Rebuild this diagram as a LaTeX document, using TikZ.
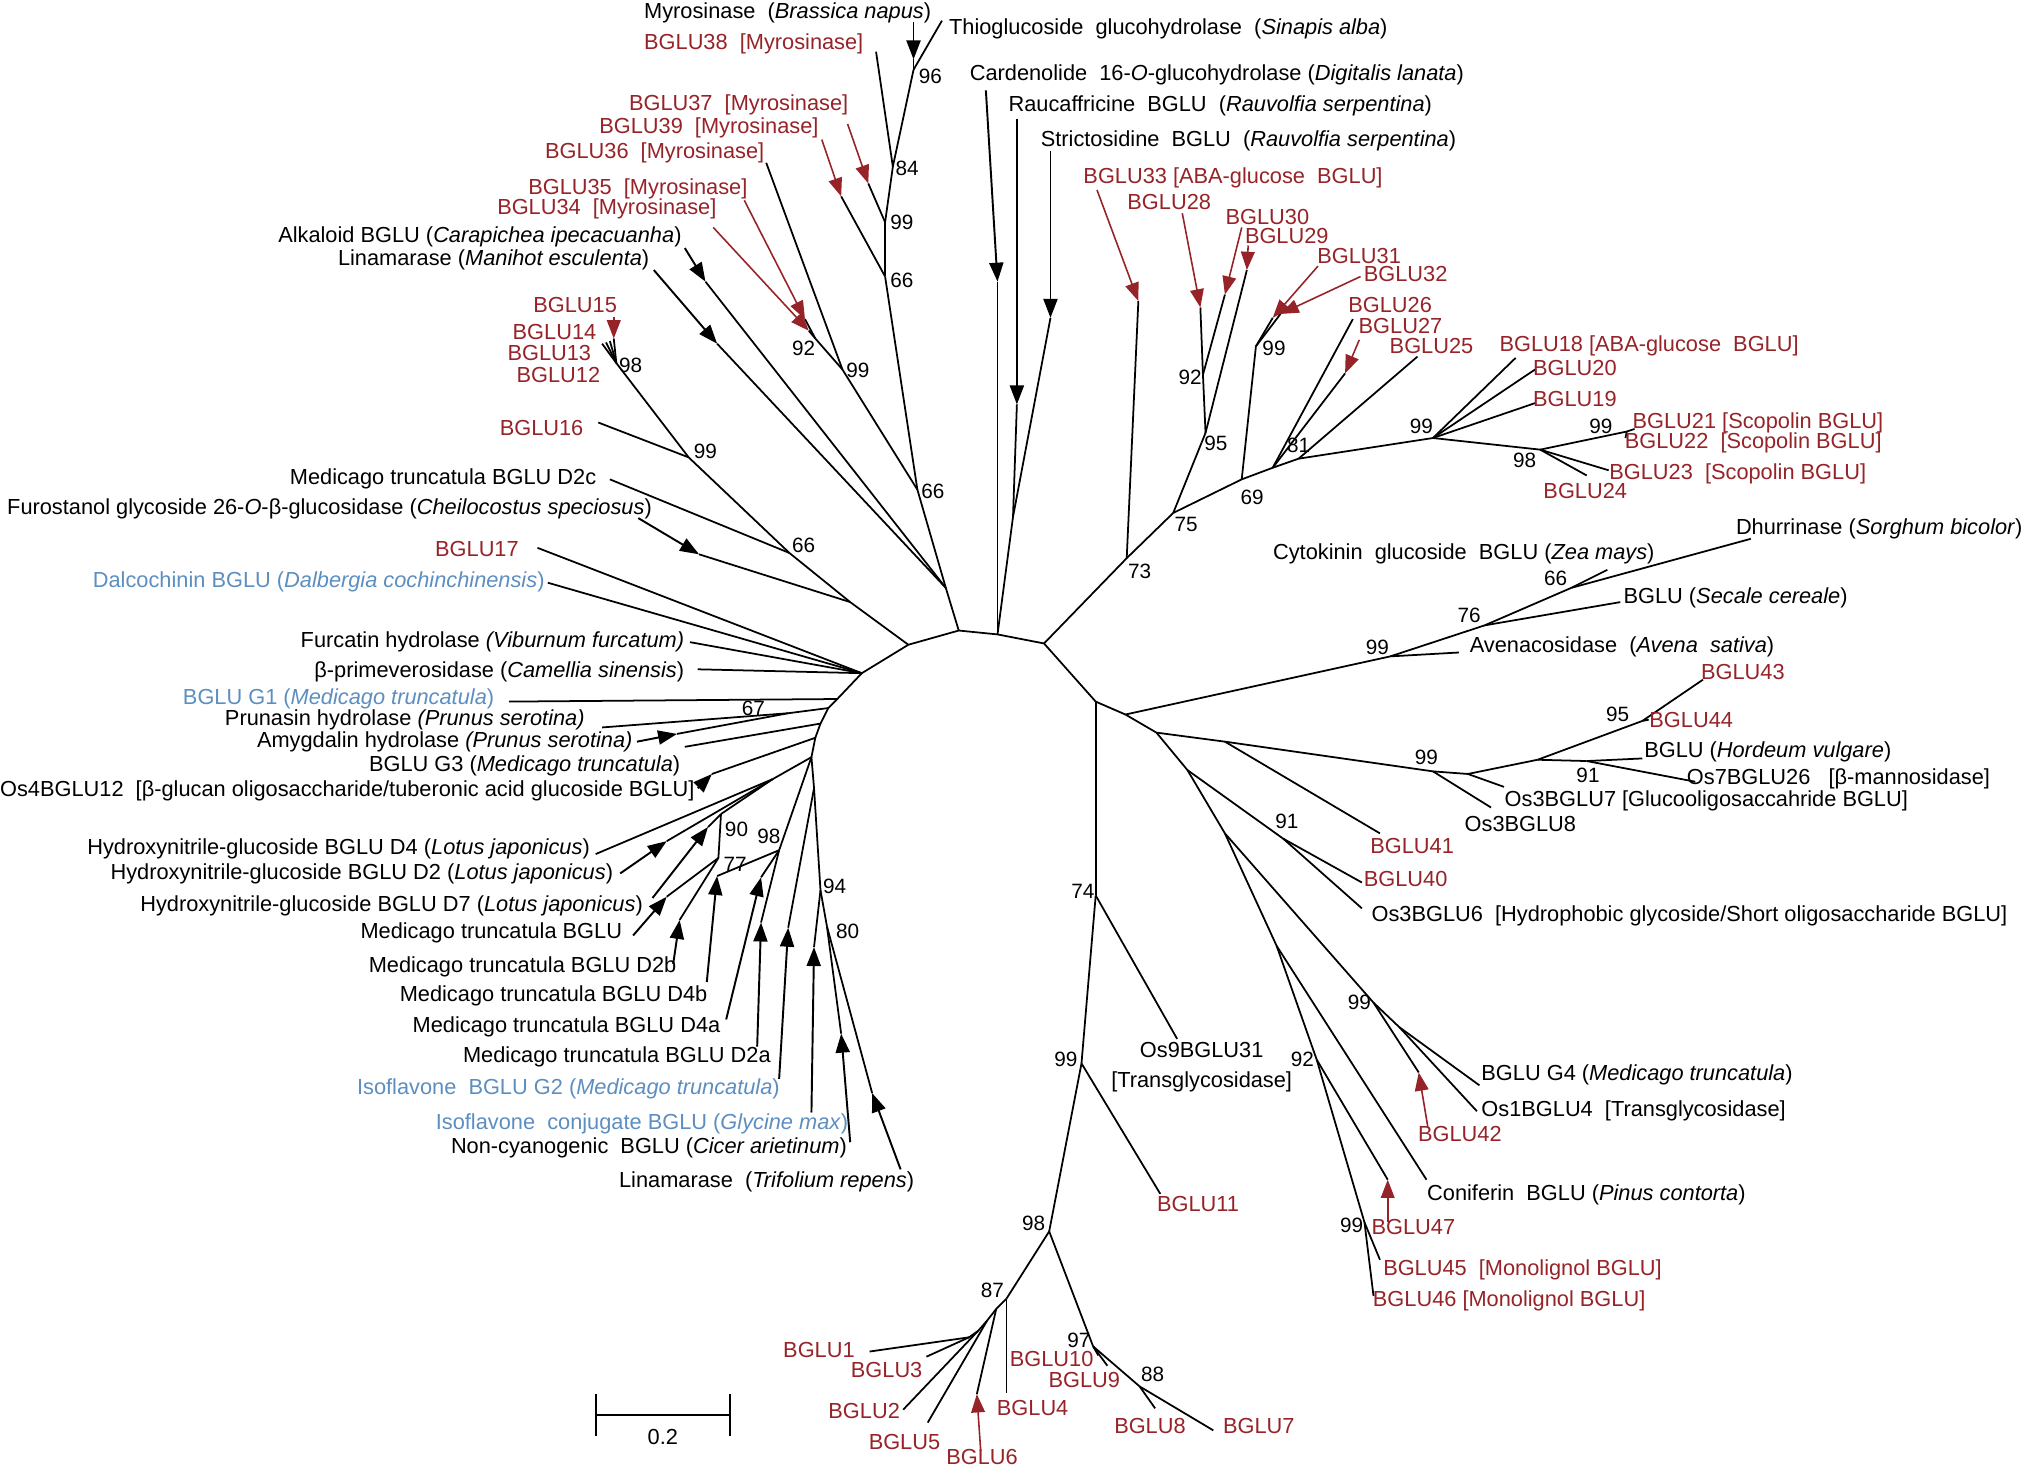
\documentclass[tikz,border=0pt]{standalone}
\usepackage{fontspec}
\setmainfont{Liberation Sans}
\usetikzlibrary{arrows.meta}

\definecolor{glured}{RGB}{150,35,40}
\definecolor{glublue}{RGB}{92,142,192}

\tikzset{
  br/.style={line width=0.5pt, line join=round},
  lab/.style={inner sep=0pt, font=\fontsize{6.2}{8.4}\selectfont},
  rlab/.style={lab, text=glured},
  blab/.style={lab, text=glublue},
  boot/.style={inner sep=0pt, font=\fontsize{5.9}{6.5}\selectfont},
  pnt/.style={line width=0.55pt, -{Triangle[length=5.4pt,width=4pt]}},
  rpnt/.style={glured, line width=0.45pt, -{Triangle[length=5.2pt,width=3.9pt]}},
}

\begin{document}
\begin{tikzpicture}[x=0.01292cm, y=-0.01292cm]
\useasboundingbox (0,0) rectangle (1568,1138);

% inner nodes
\foreach \n/\x/\y in {R1/848/543, R2/808/498, R3/772/491, R4/742/488, R5/703/499, R6/667/521,
  R7/648/541, R8/641/548, R9/635/560, R10/631/571, R11/628/586,
  nF/658/466, n66a/611/428, n99a/533/354, n98a/477/281,
  nA4/732/455, n66b/710/379, n99b/652/286, n92/631/262, n66c/685/214, n99c/685/172, n84/691/129, n96/707/54,
  nRS/784/400, n73/872/432, n75/908/397, n95/933/335, n92r/931/290, n69/961/371, n99r3/972/268,
  n81/985/362, nS25/1005/355, n99r4/1109/339, n98r/1192/348, n99r5/1259/334,
  nDh/871/553, n99d/1076/508, n76/1149/484, n66d/1216/455,
  nC1/895/567, nB41/948/574, nOs99/1109/597, nOs7/1136/599, nHv/1190/588, n95b/1271/558, n91b/1228/589,
  nC2/919/596, n91a/993/649, nC3/948/645, n99G4/1063/776, nG4/1083/795, nC4/988/732, n92b/1019/820, n99e/1056/946,
  n74/848/693, n99f/837/823, n98b/812/953, n87/779/1005, n97/846/1042, n88/882/1073,
  nB1/771/1013, nB2/764/1022, nB3/757/1030, nB4/750/1035,
  n67/610/552, nLA/598/603, n90/558/630, n77/556/664, n98c/603/658, nY/630/610, n94/635/689, n80/640/717}
  \coordinate (\n) at (\x,\y);

% leaf tips
\foreach \n/\x/\y in {tD2c/472/371, tB16/463/327, tB12/466/266, tB13/469/265, tB14/472/264, tB15/475/262,
  tFur/541/429, tB17/416/424, tDal/424/451, tFurc/534/497, tPrim/540/518,
  tAlk/546/218, tLinM/555/266, tB36/593/126, tB35/623/247, tB34/626/256, tB39/651/152, tB37/672/142,
  tB38/678/40, tMyr/707/46, tThio/729/16,
  tCard/772/218, tRauc/787/313, tStri/813/246, tB33/881/233, tB29/965/209, tB28/929/238, tB30/948/228,
  tB31/985/246, tB32/991/243, tB26/1047/247, tB27/1041/289, tB25/1097/276, tB18/1173/277, tB20/1188/286,
  tB19/1188/312, tB21/1265/332, tB22/1258/339, tB23/1245/364, tB24/1228/368,
  tAve/1129/505, tSec/1254/466, tCyt/1244/441, tDhu/1355/417,
  tB41/1068/645, tOs8/1154/625, tOs7/1164/609, tB43/1318/526, tB44/1276/557, tHv/1271/587, tOs26/1312/605,
  tB40/1054/683, tOs6/1054/703, tB42/1098/830, tG4/1145/840, tOs1/1143/860, tCon/1104/913,
  tB47/1074/913, tB45/1068/975, tB46/1063/1003,
  tOs9/911/804, tB11/898/924, tB10/850/1049, tB9/857/1057, tB8/894/1090, tB7/939/1107, tB4/779/1078,
  tB6/756/1079, tB5/718/1101, tB2/699/1091, tB3/717/1050, tB1/673/1046,
  tG1/394/543, tPru/466/563, tAmy/524/568, tG3/530/578, tOs4/551/599,
  tD4/461/661, tD2/516/651, tD7/548/640, tMt/516/694, tD2b/526/712, tD4b/555/678, tD4a/589/679,
  tD2a/589/714, tG2/610/718, tGly/630/733, tCic/651/800, tTri/675/846}
  \coordinate (\n) at (\x,\y);

% arrow tails
\foreach \n/\x/\y in {aFur/494/401, aAlk/530/192, aLinM/506/209, aB15/475/245, aB34/552/176, aB35/576/155,
  aB37/656/96, aB39/636/108, aMyr/707/17, aCard/763/70, aRauc/787/92, aStri/813/117, aB33/849/147,
  aB28/915/165, aB30/961/176, aB29/966/190, aB31/1020/206, aB32/1053/214, aB27/1052/263,
  aB42/1105/872, aB47/1074/946, aB6/759/1123, aAmy/493/574, aOs4/540/610,
  aD2/480/676, aD7/505/695, aMt/490/724, aD2b/521/746, aD4b/547/760, aD4a/562/789, aD2a/586/810,
  aG2/603/835, aGly/628/861, aCic/658/884, aTri/697/905}
  \coordinate (\n) at (\x,\y);

\draw[br] (R11) -- (R10) -- (R9) -- (R8) -- (R7) -- (R6) -- (R5) -- (R4) -- (R3) -- (R2) -- (R1);

\foreach \p/\c in {R6/tB17, R6/tDal, R6/tFurc, R6/tPrim,
  R5/nF, nF/n66a, nF/tFur, n66a/tD2c, n66a/n99a, n99a/tB16, n99a/n98a,
  n98a/tB12, n98a/tB13, n98a/tB14, n98a/tB15,
  R4/nA4, nA4/tAlk, nA4/tLinM, nA4/n66b, n66b/n99b, n99b/tB36, n99b/n92, n92/tB35, n92/tB34,
  n66b/n66c, n66c/tB39, n66c/n99c, n99c/tB37, n99c/n84, n84/tB38, n84/n96, n96/tMyr, n96/tThio,
  R3/tCard, R3/nRS, nRS/tRauc, nRS/tStri,
  R2/n73, n73/tB33, n73/n75, n75/n95, n95/tB29, n95/n92r, n92r/tB28, n92r/tB30, n75/n69,
  n69/n99r3, n99r3/tB31, n99r3/tB32, n69/n81, n81/tB26, n81/tB27, n81/nS25, nS25/tB25, nS25/n99r4,
  n99r4/tB18, n99r4/tB20, n99r4/tB19, n99r4/n98r, n98r/n99r5, n99r5/tB21, n99r5/tB22, n98r/tB23, n98r/tB24,
  R1/nDh, nDh/n99d, n99d/tAve, n99d/n76, n76/tSec, n76/n66d, n66d/tCyt, n66d/tDhu,
  nDh/nC1, nC1/nB41, nB41/tB41, nB41/nOs99, nOs99/tOs8, nOs99/nOs7, nOs7/tOs7, nOs7/nHv,
  nHv/n95b, n95b/tB43, n95b/tB44, nHv/n91b, n91b/tHv, n91b/tOs26,
  nC1/nC2, nC2/n91a, n91a/tB40, n91a/tOs6, nC2/nC3, nC3/n99G4, n99G4/tB42, n99G4/nG4, nG4/tG4, nG4/tOs1,
  nC3/nC4, nC4/tCon, nC4/n92b, n92b/tB47, n92b/n99e, n99e/tB45, n99e/tB46,
  R1/n74, n74/tOs9, n74/n99f, n99f/tB11, n99f/n98b, n98b/n87, n98b/n97, n97/tB10, n97/tB9, n97/n88,
  n88/tB8, n88/tB7, n87/tB4, n87/nB1, nB1/tB6, nB1/nB2, nB2/tB5, nB2/nB3, nB3/tB2, nB3/nB4, nB4/tB3, nB4/tB1,
  R7/tG1, R8/n67, n67/tPru, n67/tAmy, R9/tG3, R10/tOs4,
  R11/nLA, nLA/tD4, nLA/tD2, nLA/n90, n90/tD7, n90/n77, n77/tMt, n77/tD2b,
  R11/n98c, n98c/tD4b, n98c/tD4a, n98c/tD2a, R11/nY, nY/tG2, nY/n94, n94/tGly, n94/n80, n80/tCic, n80/tTri}
  \draw[br] (\p) -- (\c);

\foreach \a/\b in {aFur/tFur, aAlk/tAlk, aLinM/tLinM, aMyr/tMyr, aCard/tCard, aRauc/tRauc, aStri/tStri,
  aAmy/tAmy, aOs4/tOs4, aD2/tD2, aD7/tD7, aMt/tMt, aD2b/tD2b, aD4b/tD4b, aD4a/tD4a, aD2a/tD2a,
  aG2/tG2, aGly/tGly, aCic/tCic, aTri/tTri}
  \draw[pnt] (\a) -- (\b);

\foreach \a/\b in {aB15/tB15, aB34/tB34, aB35/tB35, aB37/tB37, aB39/tB39, aB33/tB33, aB28/tB28,
  aB30/tB30, aB29/tB29, aB31/tB31, aB32/tB32, aB27/tB27, aB42/tB42, aB47/tB47, aB6/tB6}
  \draw[rpnt] (\a) -- (\b);

% top
\node[lab, anchor=west] (lMyr) at (498,10) {Myrosinase\ \ (\textit{Brassica napus})};
\node[rlab, anchor=west] (lB38) at (498,34) {BGLU38\ \ [Myrosinase]};
\node[lab, anchor=west] (lThio) at (734,22) {Thioglucoside\ \ glucohydrolase\ \ (\textit{Sinapis alba})};
\node[lab, anchor=west] (lCard) at (750,58) {Cardenolide\ \ 16-\textit{O}-glucohydrolase (\textit{Digitalis lanata})};
\node[lab, anchor=west] (lRauc) at (780,82) {Raucaffricine\ \ BGLU\ \ (\textit{Rauvolfia serpentina})};
\node[lab, anchor=west] (lStri) at (805,109) {Strictosidine\ \ BGLU\ \ (\textit{Rauvolfia serpentina})};
\node[rlab, anchor=west] (lB33) at (838,138) {BGLU33 [ABA-glucose\ \ BGLU]};
\node[rlab, anchor=west] (lB28) at (872,156) {BGLU28};
\node[rlab, anchor=west] (lB30) at (948,168) {BGLU30};
\node[rlab, anchor=west] (lB29) at (963,183) {BGLU29};
\node[rlab, anchor=west] (lB31) at (1019,198) {BGLU31};
\node[rlab, anchor=west] (lB32) at (1055,212) {BGLU32};
\node[rlab, anchor=west] (lB26) at (1043,236) {BGLU26};
\node[rlab, anchor=west] (lB27) at (1051,252) {BGLU27};
\node[rlab, anchor=west] (lB25) at (1075,268) {BGLU25};
\node[rlab, anchor=west] (lB18) at (1160,268) {BGLU18 [ABA-glucose\ \ BGLU]};
\node[rlab, anchor=west] (lB20) at (1186,285) {BGLU20};
\node[rlab, anchor=west] (lB19) at (1186,309) {BGLU19};
\node[rlab, anchor=west] (lB21) at (1263,327) {BGLU21 [Scopolin BGLU]};
\node[rlab, anchor=west] (lB22) at (1257,343) {BGLU22\ \ [Scopolin BGLU]};
\node[rlab, anchor=west] (lB23) at (1245,367) {BGLU23\ \ [Scopolin BGLU]};
\node[rlab, anchor=west] (lB24) at (1194,380) {BGLU24};

% upper left
\node[rlab, anchor=east] (lB37) at (657,81) {BGLU37\ \ [Myrosinase]};
\node[rlab, anchor=east] (lB39) at (634,99) {BGLU39\ \ [Myrosinase]};
\node[rlab, anchor=east] (lB36) at (592,118) {BGLU36\ \ [Myrosinase]};
\node[rlab, anchor=east] (lB35) at (579,146) {BGLU35\ \ [Myrosinase]};
\node[rlab, anchor=east] (lB34) at (555,162) {BGLU34\ \ [Myrosinase]};
\node[lab, anchor=east] (lAlk) at (528,183) {Alkaloid BGLU (\textit{Carapichea ipecacuanha})};
\node[lab, anchor=east] (lLinM) at (503,201) {Linamarase (\textit{Manihot esculenta})};
\node[rlab, anchor=east] (lB15) at (478,236) {BGLU15};
\node[rlab, anchor=east] (lB14) at (462,257) {BGLU14};
\node[rlab, anchor=east] (lB13) at (458,273) {BGLU13};
\node[rlab, anchor=east] (lB12) at (465,290) {BGLU12};
\node[rlab, anchor=east] (lB16) at (452,331) {BGLU16};
\node[lab, anchor=east] (lD2c) at (462,371) {Medicago truncatula BGLU D2c};
\node[lab, anchor=east] (lFur) at (505,394) {Furostanol glycoside 26-\textit{O}-β-glucosidase (\textit{Cheilocostus speciosus})};
\node[rlab, anchor=east] (lB17) at (402,425) {BGLU17};
\node[blab, anchor=east] (lDal) at (422,450) {Dalcochinin BGLU (\textit{Dalbergia cochinchinensis})};
\node[lab, anchor=east] (lFurc) at (530,497) {Furcatin hydrolase \textit{(Viburnum furcatum)}};
\node[lab, anchor=east] (lPrim) at (530,520) {β-primeverosidase (\textit{Camellia sinensis})};
\node[blab, anchor=east] (lG1) at (383,541) {BGLU G1 (\textit{Medicago truncatula})};
\node[lab, anchor=east] (lPru) at (453,557) {Prunasin hydrolase \textit{(Prunus serotina)}};
\node[lab, anchor=east] (lAmy) at (490,574) {Amygdalin hydrolase \textit{(Prunus serotina)}};
\node[lab, anchor=east] (lG3) at (527,593) {BGLU G3 (\textit{Medicago truncatula})};
\node[lab, anchor=east] (lOs4) at (538,612) {Os4BGLU12\ \ [β-glucan oligosaccharide/tuberonic acid glucoside BGLU]};

% lower left
\node[lab, anchor=east] (lD4) at (457,657) {Hydroxynitrile-glucoside BGLU D4 (\textit{Lotus japonicus})};
\node[lab, anchor=east] (lD2) at (475,676) {Hydroxynitrile-glucoside BGLU D2 (\textit{Lotus japonicus})};
\node[lab, anchor=east] (lD7) at (498,701) {Hydroxynitrile-glucoside BGLU D7 (\textit{Lotus japonicus})};
\node[lab, anchor=east] (lMt) at (482,722) {Medicago truncatula BGLU};
\node[lab, anchor=east] (lD2b) at (524,748) {Medicago truncatula BGLU D2b};
\node[lab, anchor=east] (lD4b) at (548,771) {Medicago truncatula BGLU D4b};
\node[lab, anchor=east] (lD4a) at (558,795) {Medicago truncatula BGLU D4a};
\node[lab, anchor=east] (lD2a) at (597,818) {Medicago truncatula BGLU D2a};
\node[blab, anchor=east] (lG2) at (604,843) {Isoflavone\ \ BGLU G2 (\textit{Medicago truncatula})};
\node[blab, anchor=east] (lGly) at (657,870) {Isoflavone\ \ conjugate BGLU (\textit{Glycine max})};
\node[lab, anchor=east] (lCic) at (656,888) {Non-cyanogenic\ \ BGLU (\textit{Cicer arietinum})};
\node[lab, anchor=east] (lTri) at (708,915) {Linamarase\ \ (\textit{Trifolium repens})};

% right
\node[lab, anchor=east] (lCyt) at (1281,429) {Cytokinin\ \ glucoside\ \ BGLU (\textit{Zea mays})};
\node[lab, anchor=west] (lDhu) at (1343,409) {Dhurrinase (\textit{Sorghum bicolor})};
\node[lab, anchor=west] (lSec) at (1256,463) {BGLU (\textit{Secale cereale})};
\node[lab, anchor=west] (lAve) at (1137,501) {Avenacosidase\ \ (\textit{Avena\ \ sativa})};
\node[rlab, anchor=west] (lB43) at (1316,520) {BGLU43};
\node[rlab, anchor=west] (lB44) at (1276,557) {BGLU44};
\node[lab, anchor=west] (lHv) at (1272,582) {BGLU (\textit{Hordeum vulgare})};
\node[lab, anchor=west] (lOs26) at (1305,603) {Os7BGLU26\ \ \ [β-mannosidase]};
\node[lab, anchor=west] (lOs7) at (1164,620) {Os3BGLU7 [Glucooligosaccahride BGLU]};
\node[lab, anchor=west] (lOs8) at (1133,638) {Os3BGLU8};
\node[rlab, anchor=west] (lB41) at (1060,655) {BGLU41};
\node[rlab, anchor=west] (lB40) at (1055,680) {BGLU40};
\node[lab, anchor=west] (lOs6) at (1061,709) {Os3BGLU6\ \ [Hydrophobic glycoside/Short oligosaccharide BGLU]};
\node[lab, align=center] (lOs9) at (930,826) {Os9BGLU31\\{[Transglycosidase]}};
\node[lab, anchor=west] (lG4) at (1146,832) {BGLU G4 (\textit{Medicago truncatula})};
\node[lab, anchor=west] (lOs1) at (1146,860) {Os1BGLU4\ \ [Transglycosidase]};
\node[rlab, anchor=west] (lB42) at (1097,878) {BGLU42};
\node[lab, anchor=west] (lCon) at (1104,925) {Coniferin\ \ BGLU (\textit{Pinus contorta})};
\node[rlab, anchor=west] (lB11) at (895,932) {BGLU11};
\node[rlab, anchor=west] (lB47) at (1061,950) {BGLU47};
\node[rlab, anchor=west] (lB45) at (1070,983) {BGLU45\ \ [Monolignol BGLU]};
\node[rlab, anchor=west] (lB46) at (1062,1007) {BGLU46 [Monolignol BGLU]};

% bottom
\node[rlab, anchor=east] (lB1) at (662,1045) {BGLU1};
\node[rlab, anchor=west] (lB3) at (658,1060) {BGLU3};
\node[rlab, anchor=west] (lB10) at (781,1052) {BGLU10};
\node[rlab, anchor=west] (lB9) at (811,1068) {BGLU9};
\node[rlab, anchor=east] (lB2) at (697,1092) {BGLU2};
\node[rlab, anchor=west] (lB4) at (771,1090) {BGLU4};
\node[rlab] (lB5) at (700,1116) {BGLU5};
\node[rlab] (lB8) at (890,1104) {BGLU8};
\node[rlab, anchor=west] (lB7) at (946,1104) {BGLU7};
\node[rlab] (lB6) at (760,1128) {BGLU6};

% bootstrap values
\foreach \x/\y/\v [count=\i] in {720/59/96, 702/130/84, 698/172/99, 698/217/66, 622/270/92, 664/287/99,
  722/380/66, 488/283/98, 546/349/99, 622/422/66, 882/442/73, 918/406/75, 969/385/69, 941/343/95,
  921/292/92, 986/270/99, 1005/345/81, 1100/330/99, 1180/356/98, 1239/330/99, 1204/448/66, 1137/476/76,
  1066/501/99, 1252/553/95, 1104/586/99, 1229/600/91, 996/636/91, 838/690/74, 825/820/99, 1008/820/92,
  1052/776/99, 1046/948/99, 800/947/98, 768/999/87, 835/1037/97, 892/1064/88, 583/548/67, 570/642/90,
  569/669/77, 595/647/98, 646/686/94, 656/721/80}
  \node[boot] (b\i) at (\x,\y) {\v};

% scale bar
\coordinate (sL) at (461,1095);
\coordinate (sR) at (565,1095);
\draw[br] (sL) -- (sR);
\draw[br] ([yshift=-6]sL) -- ([yshift=6]sL);
\draw[br] ([yshift=-6]sR) -- ([yshift=6]sR);
\node[lab] (sc) at (513,1112) {0.2};
\end{tikzpicture}
\end{document}
